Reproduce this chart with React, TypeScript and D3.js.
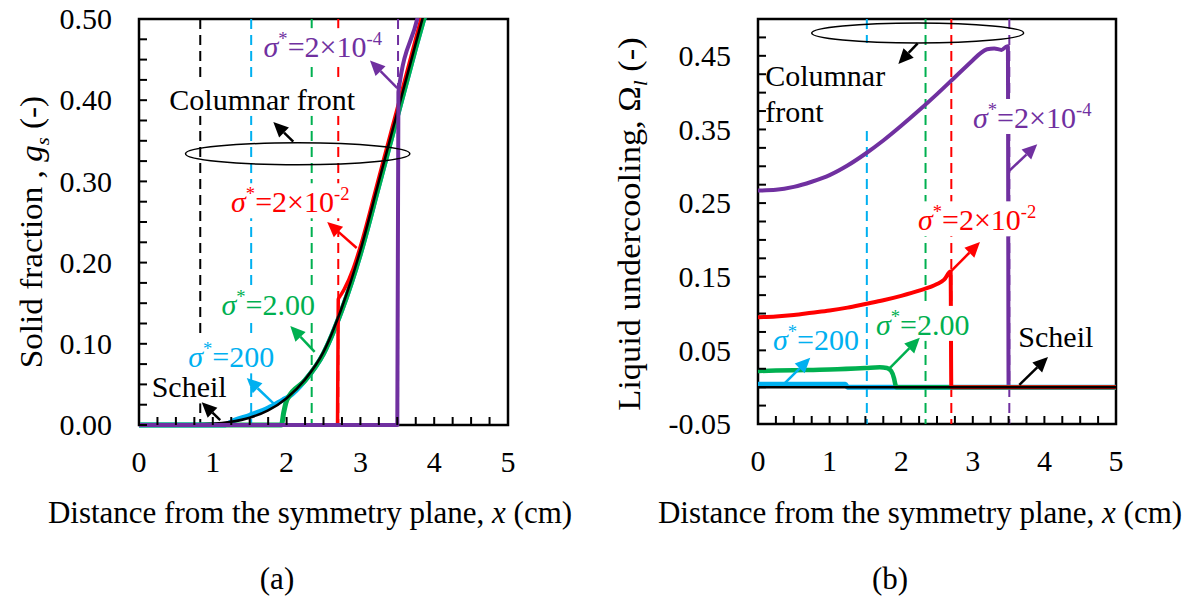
import React, { useEffect, useRef } from 'react';
import * as d3 from 'd3';

const W = 1195;
const H = 604;
const FONT = "'Liberation Serif','Times New Roman',Times,serif";

const PURPLE = '#7030A0';
const RED = '#FF0000';
const GREEN = '#00B050';
const CYAN = '#00B0F0';
const BLACK = '#000000';

// ---------- shared axis data ----------
const xTicks = [0, 1, 2, 3, 4, 5];
const gsTicks = [0, 0.1, 0.2, 0.3, 0.4, 0.5];
const omegaTicks = [-0.05, 0.05, 0.15, 0.25, 0.35, 0.45];

// columnar front positions (cm)
const frontScheil = 0.83;
const front200 = 1.52;
const front2 = 2.34;
const front2e2 = 2.7;
const front2e4 = 3.51;

// ---------- panel (a): solid fraction g_s ----------
const aScheilX = [0, 0.5, 1.0, 1.25, 1.5, 1.75, 2.0, 2.25, 2.5, 2.75, 3.0, 3.25, 3.5, 3.75, 3.9];
const aScheilY = [0, 0.0003, 0.0015, 0.004, 0.009, 0.018, 0.033, 0.056, 0.09, 0.145, 0.215, 0.3, 0.385, 0.47, 0.52];

const a200X = [0, 1.15, 1.3, 1.5, 1.75, 1.95, 2.03, 2.25, 2.5, 2.75, 3.0, 3.25, 3.5, 3.75, 3.92];
const a200Y = [0, 0, 0.006, 0.012, 0.021, 0.031, 0.035, 0.055, 0.088, 0.142, 0.211, 0.295, 0.38, 0.465, 0.52];

const a2X = [0, 1.93, 1.96, 2.0, 2.03, 2.25, 2.5, 2.75, 3.0, 3.25, 3.5, 3.75, 3.92];
const a2Y = [0, 0, 0.015, 0.03, 0.035, 0.055, 0.088, 0.142, 0.211, 0.295, 0.38, 0.465, 0.52];

const a2e2X = [0, 2.69, 2.7, 2.72, 2.78, 2.9, 3.0, 3.25, 3.5, 3.75, 3.88];
const a2e2Y = [0, 0, 0.155, 0.158, 0.167, 0.192, 0.22, 0.305, 0.39, 0.476, 0.52];

const a2e4X = [0, 3.5, 3.515, 3.77, 3.82];
const a2e4Y = [0, 0, 0.41, 0.5, 0.52];

// ---------- panel (b): liquid undercooling Omega_l ----------
const bScheilX = [0, 5];
const bScheilY = [0, 0];

const b200X = [0, 1.22, 1.25, 5];
const b200Y = [0.004, 0.004, 0, 0];

const b2X = [0, 0.5, 1.0, 1.5, 1.7, 1.8, 1.86, 1.9, 1.92, 1.93, 5];
const b2Y = [0.022, 0.023, 0.024, 0.026, 0.027, 0.026, 0.022, 0.012, 0.003, 0, 0];

const b2e2X = [0, 0.25, 0.5, 0.75, 1.0, 1.25, 1.5, 1.75, 2.0, 2.25, 2.5, 2.6, 2.69, 2.7, 5];
const b2e2Y = [0.095, 0.096, 0.098, 0.101, 0.104, 0.108, 0.113, 0.118, 0.124, 0.131, 0.14, 0.146, 0.157, 0, 0];

const b2e4X = [0, 0.25, 0.5, 0.75, 1.0, 1.25, 1.5, 1.75, 2.0, 2.25, 2.5, 2.75, 3.0, 3.1, 3.2, 3.3, 3.4, 3.46, 3.49, 3.5, 5];
const b2e4Y = [0.267, 0.268, 0.272, 0.279, 0.288, 0.301, 0.317, 0.335, 0.355, 0.376, 0.398, 0.421, 0.444, 0.453, 0.459, 0.46, 0.458, 0.462, 0.463, 0, 0];

type Part = { t: string; italic?: boolean; sup?: boolean; sub?: boolean };

const sigma = (rest: string, exp?: string): Part[] => {
  const p: Part[] = [{ t: 'σ', italic: true }, { t: '*', sup: true }, { t: rest }];
  if (exp) p.push({ t: exp, sup: true });
  return p;
};

type Label = { x: number; y: number; lines: Part[][]; color: string; anchor?: string; padTop?: number };
type Arrow = { from: [number, number]; to: [number, number]; color: string };
type Series = { x: number[]; y: number[]; color: string; width: number };

type Panel = {
  id: string;
  left: number; right: number; top: number; bottom: number;
  yDomain: [number, number];
  yTicks: number[];
  series: Series[];
  fronts: { x: number; color: string }[];
  labels: Label[];
  arrows: Arrow[];
  ellipse: { cx: number; cy: number; rx: number; ry: number };
  yLabel: Part[];
  yLabelPos: [number, number];
  yLabelStretch: number;
  xLabelCx: number;
  tagCx: number;
  tag: string;
};

const panels: Panel[] = [
  {
    id: 'a', left: 139, right: 508, top: 19, bottom: 425,
    yDomain: [0, 0.5], yTicks: gsTicks,
    series: [
      { x: a200X, y: a200Y, color: CYAN, width: 5 },
      { x: a2X, y: a2Y, color: GREEN, width: 5 },
      { x: a2e2X, y: a2e2Y, color: RED, width: 3.5 },
      { x: aScheilX, y: aScheilY, color: BLACK, width: 2.5 },
      { x: a2e4X, y: a2e4Y, color: PURPLE, width: 4 },
    ],
    fronts: [
      { x: frontScheil, color: BLACK },
      { x: front200, color: CYAN },
      { x: front2, color: GREEN },
      { x: front2e2, color: RED },
      { x: front2e4, color: PURPLE },
    ],
    labels: [
      { x: 2.49, y: 0.453, lines: [sigma('=2×10', '-4')], color: PURPLE },
      { x: 1.67, y: 0.388, lines: [[{ t: 'Columnar front' }]], color: BLACK },
      { x: 2.05, y: 0.262, lines: [sigma('=2×10', '-2')], color: RED },
      { x: 1.75, y: 0.135, lines: [sigma('=2.00')], color: GREEN },
      { x: 1.25, y: 0.071, lines: [sigma('=200')], color: CYAN },
      { x: 0.68, y: 0.034, lines: [[{ t: 'Scheil' }]], color: BLACK },
    ],
    arrows: [
      { from: [3.5, 0.415], to: [3.13, 0.449], color: PURPLE },
      { from: [2.09, 0.349], to: [1.82, 0.373], color: BLACK },
      { from: [2.95, 0.218], to: [2.55, 0.25], color: RED },
      { from: [2.38, 0.09], to: [2.05, 0.122], color: GREEN },
      { from: [1.84, 0.025], to: [1.46, 0.058], color: CYAN },
      { from: [1.1, 0.006], to: [0.85, 0.028], color: BLACK },
    ],
    ellipse: { cx: 2.15, cy: 0.334, rx: 1.52, ry: 0.0135 },
    yLabel: [{ t: 'Solid fraction , ' }, { t: 'g', italic: true }, { t: 's', italic: true, sub: true }, { t: ' (-)' }],
    yLabelPos: [42, 232],
    yLabelStretch: 1.07,
    xLabelCx: 310,
    tagCx: 277,
    tag: '(a)',
  },
  {
    id: 'b', left: 758, right: 1116, top: 19, bottom: 424,
    yDomain: [-0.05, 0.5], yTicks: omegaTicks,
    series: [
      { x: b2e4X, y: b2e4Y, color: PURPLE, width: 4 },
      { x: b200X, y: b200Y, color: CYAN, width: 5 },
      { x: b2X, y: b2Y, color: GREEN, width: 4.5 },
      { x: b2e2X, y: b2e2Y, color: RED, width: 4 },
      { x: bScheilX, y: bScheilY, color: BLACK, width: 2.5 },
    ],
    fronts: [
      { x: front200, color: CYAN },
      { x: front2, color: GREEN },
      { x: front2e2, color: RED },
      { x: front2e4, color: PURPLE },
    ],
    labels: [
      { x: 0.1, y: 0.409, lines: [[{ t: 'Columnar' }], [{ t: 'front' }]], color: BLACK, anchor: 'start', padTop: 16 },
      { x: 3.83, y: 0.352, lines: [sigma('=2×10', '-4')], color: PURPLE },
      { x: 3.06, y: 0.213, lines: [sigma('=2×10', '-2')], color: RED },
      { x: 2.3, y: 0.071, lines: [sigma('=2.00')], color: GREEN },
      { x: 0.81, y: 0.05, lines: [sigma('=200')], color: CYAN },
      { x: 4.16, y: 0.055, lines: [[{ t: 'Scheil' }]], color: BLACK },
    ],
    arrows: [
      { from: [2.23, 0.467], to: [1.96, 0.439], color: BLACK },
      { from: [3.49, 0.292], to: [3.9, 0.33], color: PURPLE },
      { from: [2.68, 0.156], to: [3.1, 0.197], color: RED },
      { from: [1.84, 0.026], to: [2.26, 0.067], color: GREEN },
      { from: [0.35, 0.003], to: [0.73, 0.04], color: CYAN },
      { from: [3.65, 0.003], to: [4.05, 0.041], color: BLACK },
    ],
    ellipse: { cx: 2.23, cy: 0.481, rx: 1.48, ry: 0.0136 },
    yLabel: [{ t: 'Liquid undercooling, Ω' }, { t: 'l', italic: true, sub: true }, { t: ' (-)' }],
    yLabelPos: [640, 224],
    yLabelStretch: 1.11,
    xLabelCx: 920,
    tagCx: 890,
    tag: '(b)',
  },
];

const LABEL_FS = 30;
const TICK_FS = 30;
const TITLE_FS = 31;

function richText(
  g: d3.Selection<SVGGElement, unknown, null, undefined>,
  x: number, y: number, parts: Part[], fs: number, color: string, anchor: string,
) {
  const text = g.append('text')
    .attr('x', x).attr('y', y)
    .attr('font-size', fs).attr('fill', color)
    .attr('text-anchor', anchor).attr('font-family', FONT);
  let shift = 0;
  parts.forEach((p) => {
    const target = p.sup ? -0.4 * fs : p.sub ? 0.22 * fs : 0;
    const ts = text.append('tspan').text(p.t).attr('dy', target - shift);
    if (p.sup || p.sub) ts.attr('font-size', fs * 0.62);
    if (p.italic) ts.attr('font-style', 'italic');
    shift = target;
  });
  return text;
}

const fmtTick = (v: number) => d3.format('.2f')(v).replace('\u2212', '-');

function drawPanel(svg: d3.Selection<SVGSVGElement, unknown, null, undefined>, p: Panel) {
  const x = d3.scaleLinear().domain([0, 5]).range([p.left, p.right]);
  const y = d3.scaleLinear().domain(p.yDomain).range([p.bottom, p.top]);
  const root = svg.append('g');

  const clipId = 'clip-' + p.id;
  root.append('clipPath').attr('id', clipId)
    .append('rect')
    .attr('x', p.left).attr('y', p.top - 1)
    .attr('width', p.right - p.left).attr('height', p.bottom - p.top + 4);

  // frame (drawn first so series overlay the bottom axis)
  root.append('rect')
    .attr('x', p.left).attr('y', p.top)
    .attr('width', p.right - p.left).attr('height', p.bottom - p.top)
    .attr('fill', 'none').attr('stroke', BLACK).attr('stroke-width', 2.5);

  const plot = root.append('g').attr('clip-path', `url(#${clipId})`);

  // columnar-front dashed lines
  p.fronts.forEach((f) => {
    plot.append('line')
      .attr('x1', x(f.x)).attr('x2', x(f.x))
      .attr('y1', p.top).attr('y2', p.bottom)
      .attr('stroke', f.color).attr('stroke-width', 2)
      .attr('stroke-dasharray', '10,6');
  });

  const line = d3.line<[number, number]>()
    .x((d) => x(d[0])).y((d) => y(d[1]))
    .curve(d3.curveMonotoneX);

  p.series.forEach((s) => {
    plot.append('path')
      .attr('d', line(d3.zip(s.x, s.y) as [number, number][]) || '')
      .attr('fill', 'none').attr('stroke', s.color)
      .attr('stroke-width', s.width).attr('stroke-linejoin', 'round');
  });

  // labels with white background
  const lab = root.append('g');
  p.labels.forEach((l) => {
    const grp = lab.append('g');
    const texts = l.lines.map((parts, i) =>
      richText(grp as any, x(l.x), y(l.y) + i * 36, parts, LABEL_FS, l.color, l.anchor || 'middle'));
    let x0 = Infinity, y0 = Infinity, x1 = -Infinity, y1 = -Infinity;
    texts.forEach((t) => {
      const bb = (t.node() as SVGTextElement).getBBox();
      x0 = Math.min(x0, bb.x); y0 = Math.min(y0, bb.y);
      x1 = Math.max(x1, bb.x + bb.width); y1 = Math.max(y1, bb.y + bb.height);
    });
    const padTop = l.padTop || 0;
    grp.insert('rect', ':first-child')
      .attr('x', x0 - 1).attr('y', y0 - padTop)
      .attr('width', x1 - x0 + 2).attr('height', y1 - y0 + padTop)
      .attr('fill', '#fff');
  });

  // ellipse
  const k = x(1) - x(0);
  const ky = Math.abs(y(1) - y(0));
  root.append('ellipse')
    .attr('cx', x(p.ellipse.cx)).attr('cy', y(p.ellipse.cy))
    .attr('rx', p.ellipse.rx * k).attr('ry', p.ellipse.ry * ky)
    .attr('fill', 'none').attr('stroke', BLACK).attr('stroke-width', 1.5);

  // arrows
  p.arrows.forEach((a) => {
    const x1 = x(a.from[0]), y1 = y(a.from[1]);
    const x2 = x(a.to[0]), y2 = y(a.to[1]);
    const ang = Math.atan2(y2 - y1, x2 - x1);
    const hl = 15, hw = 7;
    const bx = x2 - hl * Math.cos(ang), by = y2 - hl * Math.sin(ang);
    root.append('line')
      .attr('x1', x1).attr('y1', y1).attr('x2', bx).attr('y2', by)
      .attr('stroke', a.color).attr('stroke-width', 2.5);
    const px = -Math.sin(ang), py = Math.cos(ang);
    root.append('polygon')
      .attr('points', [
        [x2, y2],
        [bx + hw * px, by + hw * py],
        [bx - hw * px, by - hw * py],
      ].map((q) => q.join(',')).join(' '))
      .attr('fill', a.color);
  });

  // ticks (drawn last)
  const ticks = root.append('g').attr('stroke', BLACK).attr('stroke-width', 2);
  d3.range(0, 5.0001, 0.25).forEach((v) => {
    ticks.append('line').attr('x1', x(v)).attr('x2', x(v))
      .attr('y1', p.bottom).attr('y2', p.bottom - 8);
  });
  d3.range(p.yDomain[0], p.yDomain[1] + 1e-6, 0.025).forEach((v) => {
    ticks.append('line').attr('x1', p.left).attr('x2', p.left + 8)
      .attr('y1', y(v)).attr('y2', y(v));
  });

  // tick labels
  xTicks.forEach((v) => {
    root.append('text').attr('x', x(v)).attr('y', p.bottom + 47)
      .attr('text-anchor', 'middle').attr('font-family', FONT)
      .attr('font-size', TICK_FS).text(String(v));
  });
  p.yTicks.forEach((v) => {
    root.append('text').attr('x', p.left - 27).attr('y', y(v))
      .attr('dy', '0.34em')
      .attr('text-anchor', 'end').attr('font-family', FONT)
      .attr('font-size', TICK_FS).text(fmtTick(v));
  });

  // axis titles
  const tg = root.append('g') as any;
  richText(tg, p.xLabelCx, 523,
    [{ t: 'Distance from the symmetry plane, ' }, { t: 'x', italic: true }, { t: ' (cm)' }],
    TITLE_FS, BLACK, 'middle');
  const yg = root.append('g')
    .attr('transform', `translate(${p.yLabelPos[0]},${p.yLabelPos[1]}) rotate(-90) scale(${p.yLabelStretch},1)`) as any;
  richText(yg, 0, 0, p.yLabel, TITLE_FS, BLACK, 'middle');
  richText(tg, p.tagCx, 589, [{ t: p.tag }], TITLE_FS, BLACK, 'middle');
}

export default function App() {
  const ref = useRef<SVGSVGElement>(null);
  useEffect(() => {
    if (!ref.current) return;
    const svg = d3.select(ref.current);
    svg.selectAll('*').remove();
    panels.forEach((p) => drawPanel(svg, p));
  }, []);
  return (
    <svg
      ref={ref}
      width={W}
      height={H}
      viewBox={`0 0 ${W} ${H}`}
      style={{ position: 'absolute', left: 0, top: 0, background: '#fff', display: 'block' }}
    />
  );
}
